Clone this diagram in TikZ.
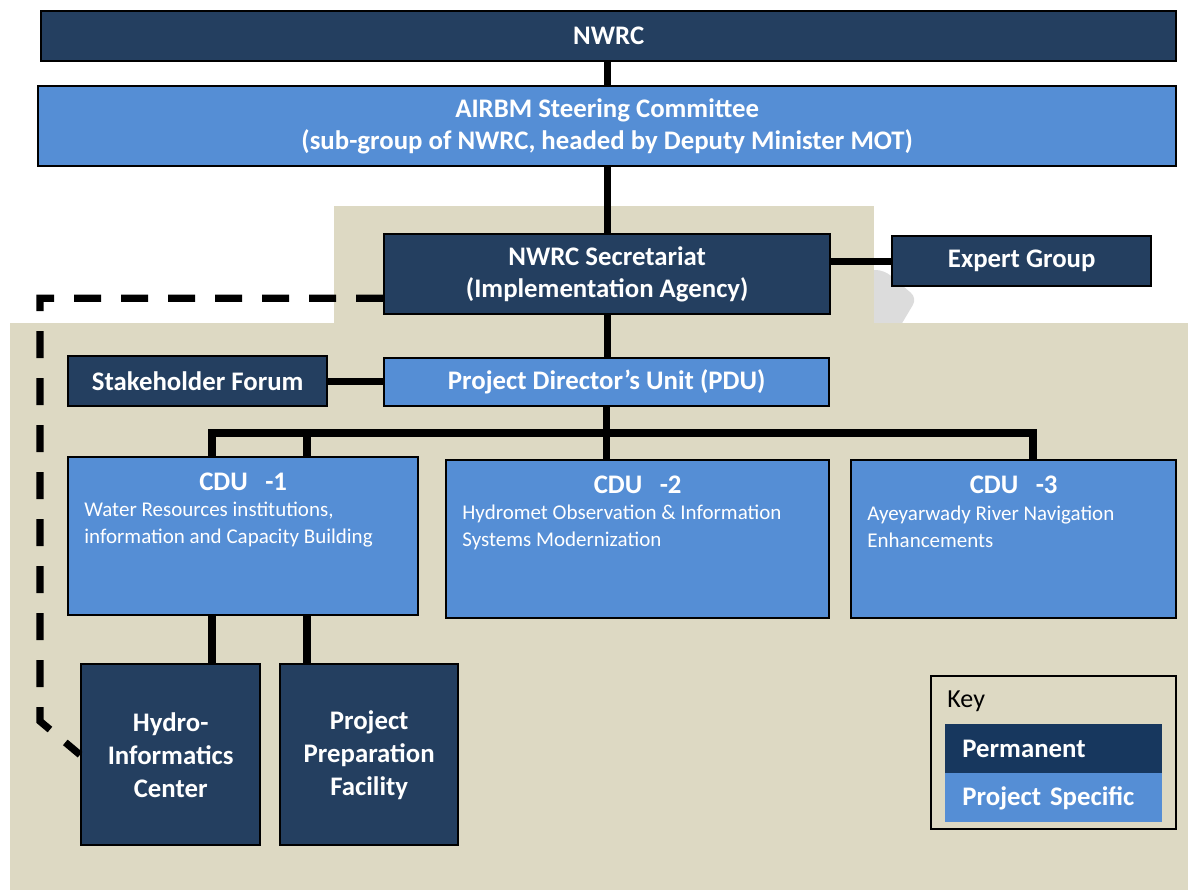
\documentclass[tikz,border=0pt]{standalone}
\usepackage{fontspec}
\setmainfont{Carlito}
\usetikzlibrary{positioning}
\definecolor{permanentBlue}{HTML}{243F60}
\definecolor{keyBlue}{HTML}{17375E}
\definecolor{projectBlue}{HTML}{558ED5}
\definecolor{sandBeige}{HTML}{DDD9C3}
\definecolor{shadowGray}{HTML}{DCDCDC}
\begin{document}
\begin{tikzpicture}[x = 0.5pt, y = -0.5pt,
                    baseBox/.style = {draw = black, line width = 1.2pt, rectangle, anchor = north west, inner sep = 0pt,
                                      text = white, align = center, font = \bfseries\fontsize{13.4}{16}\selectfont},
                    permanentBox/.style = {baseBox, fill = permanentBlue},
                    projectBox/.style = {baseBox, fill = projectBlue},
                    cduTitle/.style = {inner sep = 0pt, text = white, font = \bfseries\fontsize{13.4}{16}\selectfont},
                    cduText/.style = {inner sep = 0pt, anchor = west, align = left, text = white, font = \fontsize{10.5}{13.5}\selectfont},
                    keyBand/.style = {anchor = north west, inner xsep = 8.5pt, inner ysep = 0pt, minimum height = 24.5pt,
                                      text width = 91.5pt, align = left, text = white, font = \bfseries\fontsize{13.4}{16}\selectfont},
                    connector/.style = {line width = 3.6pt},
                    dashLine/.style = {line width = 3.6pt, dash pattern = on 13.5pt off 10pt}]
    \useasboundingbox (0,0) rectangle (1188,890);

    % background
    \fill [shadowGray, rounded corners = 4pt] (860,270) -- (884,270) -- (917,298) -- (898,330) -- (860,330) -- cycle;
    \fill [sandBeige] (334,206) rectangle (874,325);
    \fill [sandBeige] (10,323) rectangle (1188,890);

    % boxes
    \node [permanentBox, minimum width = 567.5pt, minimum height = 25pt] (nwrc) at (40,10) {NWRC};
    \node [projectBox, minimum width = 569pt, minimum height = 40pt] (steering) at (37,85)
          {AIRBM Steering Committee\\(sub-group of NWRC, headed by Deputy Minister MOT)};
    \node [permanentBox, minimum width = 223pt, minimum height = 40pt] (secretariat) at (383,233)
          {NWRC Secretariat\\(Implementation Agency)};
    \node [permanentBox, minimum width = 129.5pt, minimum height = 25pt] (expertGroup) at (891,235) {Expert Group};
    \node [permanentBox, minimum width = 129.5pt, minimum height = 25pt] (stakeholder) at (67,355) {Stakeholder Forum};
    \node [projectBox, minimum width = 222.5pt, minimum height = 24pt] (pdu) at (383,357) {Project Director’s Unit (PDU)};

    \node [projectBox, minimum width = 175pt, minimum height = 79pt] (cduOne) at (67,456) {};
    \node [projectBox, minimum width = 191.5pt, minimum height = 79pt] (cduTwo) at (445,459) {};
    \node [projectBox, minimum width = 162.5pt, minimum height = 79pt] (cduThree) at (850,459) {};

    \node [cduTitle, below = 8.5pt of cduOne.north] (cduOneTitle) {CDU\hspace{0.65em}-1};
    \node [cduTitle, below = 8.5pt of cduTwo.north] (cduTwoTitle) {CDU\hspace{0.65em}-2};
    \node [cduTitle, below = 8.5pt of cduThree.north] (cduThreeTitle) {CDU\hspace{0.65em}-3};
    \node [cduText] (cduOneText) at (84,524.5) {Water Resources institutions,\\information and Capacity Building};
    \node [cduText] (cduTwoText) at (462,527) {Hydromet Observation \& Information\\Systems Modernization};
    \node [cduText] (cduThreeText) at (867,527) {Ayeyarwady River Navigation\\Enhancements};

    \node [permanentBox, minimum width = 89.5pt, minimum height = 90.5pt, font = \bfseries\fontsize{13.4}{16.5}\selectfont]
          (hydro) at (80,663) {Hydro-\\Informatics\\Center};
    \node [permanentBox, minimum width = 89pt, minimum height = 90.5pt, font = \bfseries\fontsize{13.4}{16.5}\selectfont]
          (prepFacility) at (279,663) {Project\\Preparation\\Facility};

    % connectors
    \coordinate (busLeft) at (212,433);
    \coordinate (busMid) at (307,433);
    \coordinate (busRight) at (1033,433);
    \draw [connector] (steering.north) -- (steering.north |- nwrc.south);
    \draw [connector] (steering.south) -- (secretariat.north);
    \draw [connector] (secretariat.east |- expertGroup.west) -- (expertGroup.west);
    \draw [connector] (secretariat.south) -- (secretariat.south |- pdu.north);
    \draw [connector] (stakeholder.east) -- (stakeholder.east -| pdu.west);
    \draw [connector] (pdu.south) -- (pdu.south |- cduTwo.north);
    \draw [connector] (busLeft |- cduOne.north) -- (busLeft) -- (busRight) -- (busRight |- cduThree.north);
    \draw [connector] (busMid) -- (busMid |- cduOne.north);
    \draw [connector] (busLeft |- cduOne.south) -- (busLeft |- hydro.north);
    \draw [connector] (busMid |- cduOne.south) -- (busMid |- prepFacility.north);
    \draw [dashLine] ([yshift = -12pt]secretariat.west) -- ++(-343,0) -- ++(0,423) -- (hydro.west);

    % key
    \node [draw = black, line width = 1.2pt, anchor = north west, minimum width = 122.5pt, minimum height = 76.5pt] (keyBox) at (930,675) {};
    \node [anchor = west, inner sep = 0pt, font = \fontsize{13}{16}\selectfont] (keyTitle) at (947,701) {Key};
    \node [keyBand, fill = keyBlue] (keyPermanent) at (945,724) {Permanent};
    \node [keyBand, fill = projectBlue] (keyProject) at (945,773) {Project Specific};
\end{tikzpicture}
\end{document}
